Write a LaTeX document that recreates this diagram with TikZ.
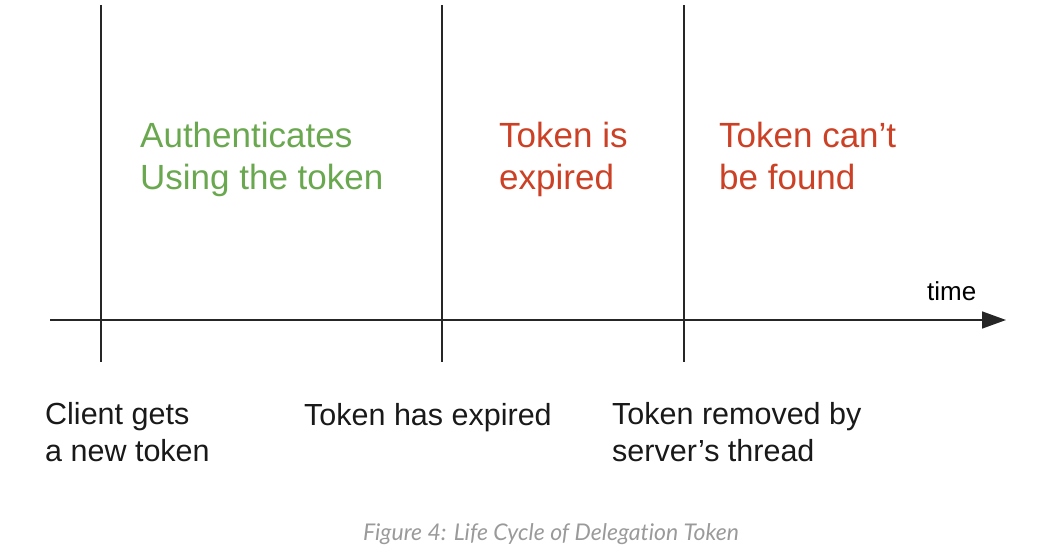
\documentclass[tikz,border=0pt]{standalone}
\usepackage{fontspec}
\setmainfont{Liberation Sans}
\newfontfamily\capfont[Ligatures=NoCommon]{Lato}
\usetikzlibrary{arrows.meta}
\definecolor{okgreen}{HTML}{6AA84F}
\definecolor{badred}{HTML}{CC4125}
\definecolor{capgray}{HTML}{9A9A9A}
\tikzset{
  evline/.style={line width=1.6pt, draw=black!85},
  event/.style={anchor=base west, inner sep=0pt, align=left, text=black!90,
    font=\fontsize{30.5}{37}\selectfont},
  phase/.style={anchor=base west, inner sep=0pt, align=left,
    font=\fontsize{35}{42}\selectfont},
}
\begin{document}
\begin{tikzpicture}[x=1pt,y=-1pt]
\useasboundingbox (0,0) rectangle (1043,553);
% event lines
\coordinate (gettop) at (101,5);
\coordinate (getbot) at (101,362);
\coordinate (exptop) at (442,5);
\coordinate (expbot) at (442,362);
\coordinate (remtop) at (684,5);
\coordinate (rembot) at (684,362);
\draw[evline] (gettop) -- (getbot);
\draw[evline] (exptop) -- (expbot);
\draw[evline] (remtop) -- (rembot);
% time axis
\coordinate (axstart) at (50,320);
\coordinate (axend) at (1006,320);
\draw[evline, -{Triangle[length=24pt,width=17pt]}] (axstart) -- (axend);
\node[anchor=base west, inner sep=0pt, font=\fontsize{26}{30}\selectfont] (time) at (927,300) {time};
% phases
\node[phase, text=okgreen] (auth) at (140,190) {Authenticates\\Using the token};
\node[phase, text=badred] (expired) at (499,190) {Token is\\expired};
\node[phase, text=badred] (gone) at (719,190) {Token can't\\be found};
% events
\node[event] (client) at (45,461) {Client gets\\a new token};
\node[event] (hasexp) at (304,425) {Token has expired};
\node[event] (removed) at (612,461) {Token removed by\\server's thread};
\node[anchor=base, inner sep=0pt, text=capgray, font=\capfont\itshape\fontsize{23}{27}\selectfont]
  (caption) at (551,540) {Figure 4: Life Cycle of Delegation Token};
\end{tikzpicture}
\end{document}
